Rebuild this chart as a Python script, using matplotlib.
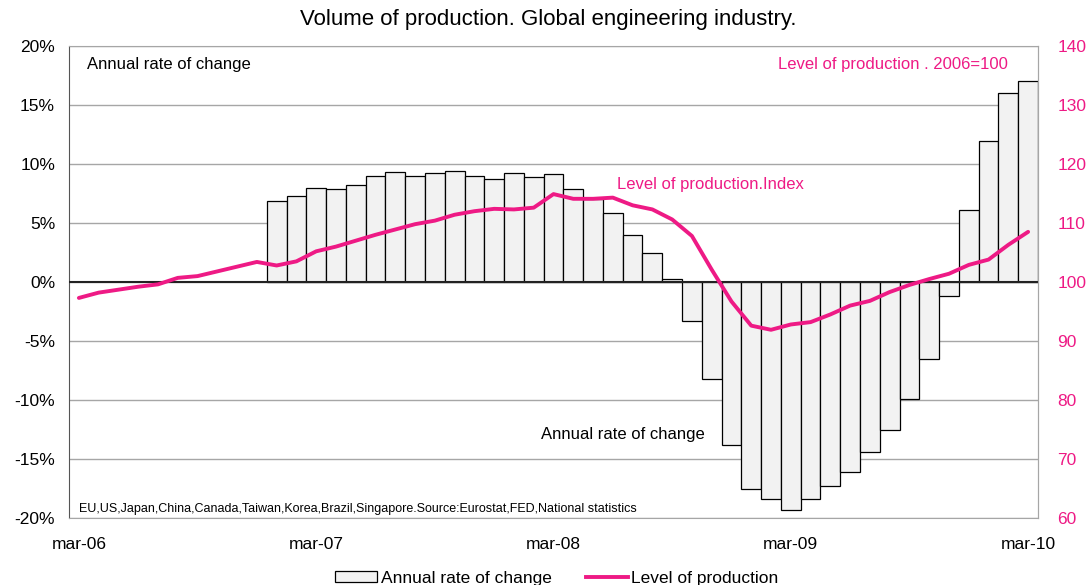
import numpy as np
import matplotlib
matplotlib.use("Agg")
import matplotlib.pyplot as plt
from matplotlib.patches import Patch
from matplotlib.lines import Line2D

plt.rcParams['font.family'] = ['Liberation Sans', 'DejaVu Sans']

# monthly, mar-06 .. mar-10 (49 months)
tick_labels = ["mar-06", "mar-07", "mar-08", "mar-09", "mar-10"]

# annual rate of change, % (no data before jan-07)
rate = [None, None, None, None, None, None, None, None, None, None,
        6.9, 7.25, 8.0, 7.9, 8.2, 9.0, 9.3, 9.0, 9.2, 9.4,
        9.0, 8.7, 9.2, 8.9, 9.15, 7.85, 7.0, 5.85, 3.95, 2.45,
        0.25, -3.3, -8.2, -13.8, -17.5, -18.4, -19.3, -18.4, -17.3, -16.1,
        -14.4, -12.5, -9.9, -6.5, -1.2, 6.1, 11.95, 16.0, 17.0]

# level of production, 2006=100
level = [97.3, 98.2, 98.7, 99.2, 99.6, 100.7, 101.0, 101.8, 102.6, 103.4,
         102.8, 103.5, 105.2, 106.0, 107.0, 108.0, 108.9, 109.8, 110.4, 111.4,
         112.0, 112.4, 112.3, 112.6, 114.9, 114.1, 114.1, 114.3, 113.0, 112.3,
         110.6, 107.8, 102.1, 96.7, 92.6, 91.9, 92.8, 93.2, 94.5, 96.0,
         96.8, 98.3, 99.5, 100.5, 101.4, 102.9, 103.8, 106.3, 108.5]

pink = "#ee1a85"
x = np.arange(len(level))
rate_arr = np.array([np.nan if v is None else v for v in rate])

fig = plt.figure(figsize=(10.88, 5.85), dpi=100)
fig.subplots_adjust(left=69/1088, right=1038/1088, top=1-46/585, bottom=1-518/585)
ax = fig.add_subplot(111)

ax.bar(x, rate_arr, width=1.0, color="#f2f2f2", edgecolor="black", linewidth=0.9, zorder=2)
ax.axhline(0, color="#222222", linewidth=1.5, zorder=3)
ax.set_ylim(-20, 20)
ax.set_yticks(range(-20, 25, 5))
ax.set_yticklabels([f"{v}%" for v in range(-20, 25, 5)])
ax.set_xlim(-0.5, len(level) - 0.5)
ax.set_xticks([0, 12, 24, 36, 48])
ax.set_xticklabels(tick_labels)
ax.yaxis.grid(True, color="#a6a6a6", linewidth=1.0, zorder=0)
ax.set_axisbelow(True)
ax.tick_params(axis="both", length=0, labelsize=12.5, colors="black")
ax.tick_params(axis="x", pad=14)
ax.tick_params(axis="y", pad=10)
for s in ["top", "right", "bottom"]:
    ax.spines[s].set_color("#a6a6a6")
ax.spines["left"].set_color("#555555")

ax2 = ax.twinx()
ax2.plot(x, level, color=pink, linewidth=2.8, zorder=5, solid_capstyle="round")
ax2.set_ylim(60, 140)
ax2.set_yticks(range(60, 150, 10))
ax2.tick_params(axis="y", length=0, labelsize=12.5, colors=pink, pad=14)
for s in ["top", "left", "bottom"]:
    ax2.spines[s].set_visible(False)
ax2.spines["right"].set_color("#a6a6a6")

fig.text(0.504, 1-20/585, "Volume of production. Global engineering industry.",
         ha="center", va="center", fontsize=16)
fig.text(87/1088, 1-64/585, "Annual rate of change", ha="left", va="center", fontsize=12)
fig.text(1008/1088, 1-64/585, "Level of production . 2006=100", ha="right", va="center",
         fontsize=12, color=pink)
fig.text(617/1088, 1-185/585, "Level of production.Index", ha="left", va="center",
         fontsize=12, color=pink)
fig.text(541/1088, 1-435/585, "Annual rate of change", ha="left", va="center", fontsize=12)
fig.text(79/1088, 1-509/585,
         "EU,US,Japan,China,Canada,Taiwan,Korea,Brazil,Singapore.Source:Eurostat,FED,National statistics",
         ha="left", va="center", fontsize=9)

handles = [Patch(facecolor="#f2f2f2", edgecolor="black", linewidth=0.9),
           Line2D([], [], color=pink, linewidth=2.8)]
fig.legend(handles, ["Annual rate of change", "Level of production"], ncol=2,
           loc="center", bbox_to_anchor=(557/1088, 1-578/585), frameon=False,
           fontsize=12.5, handlelength=2.4, handleheight=0.6, handletextpad=0.2,
           columnspacing=2.0)

fig.savefig("out.png", dpi=100)
